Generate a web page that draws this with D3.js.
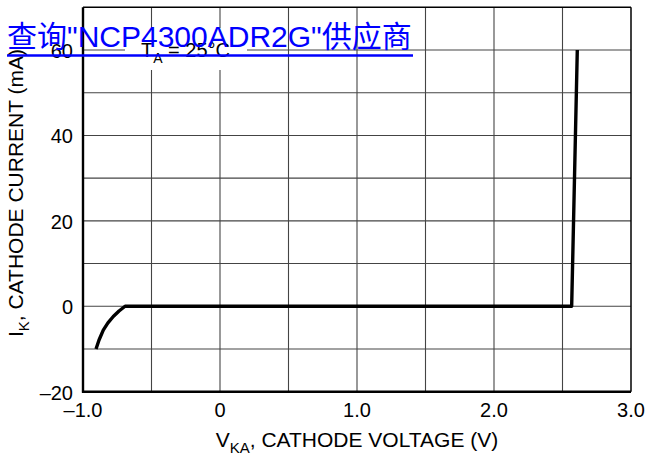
<!DOCTYPE html>
<html><head><meta charset="utf-8">
<script src="https://cdn.jsdelivr.net/npm/d3@7"></script>
<style>body{margin:0;background:#fff}svg{display:block}</style>
</head><body>
<svg id="c" width="650" height="464"></svg>
<script>
const voltage = [-0.905, -0.883, -0.852, -0.818, -0.779, -0.737, -0.693, 2.567, 2.608];
const current = [-10.0, -7.9, -5.6, -3.9, -2.4, -1.1, 0, 0, 60];
const xTicks = [-1, 0, 1, 2, 3];
const xTickLabels = ["\u20131.0", "0", "1.0", "2.0", "3.0"];
const yTicks = [-20, 0, 20, 40, 60];
const yTickLabels = ["\u201320", "0", "20", "40", "60"];
const xGrid = d3.range(-0.5, 3, 0.5);
const yGrid = d3.range(-10, 70, 10);

const svg = d3.select("#c");
const L = 83, R = 631, T = 7.3, B = 391.7;
const x = d3.scaleLinear().domain([-1, 3]).range([L, R]);
const y = d3.scaleLinear().domain([-20, 70]).range([B, T]);
const font = "'Liberation Sans', Arial, sans-serif";

// grid
svg.append("g").selectAll("line").data(xGrid).join("line")
  .attr("x1", d => x(d)).attr("x2", d => x(d)).attr("y1", T).attr("y2", B)
  .attr("stroke", "#444").attr("stroke-width", 1.1);
svg.append("g").selectAll("line").data(yGrid).join("line")
  .attr("x1", L).attr("x2", R).attr("y1", d => y(d)).attr("y2", d => y(d))
  .attr("stroke", "#444").attr("stroke-width", 1.1);

// frame
svg.append("line").attr("x1", L).attr("x2", R).attr("y1", T).attr("y2", T).attr("stroke", "#000").attr("stroke-width", 1.5);
svg.append("line").attr("x1", R).attr("x2", R).attr("y1", T).attr("y2", B).attr("stroke", "#000").attr("stroke-width", 1.5);
svg.append("line").attr("x1", L).attr("x2", L).attr("y1", T).attr("y2", B + 1).attr("stroke", "#000").attr("stroke-width", 2.4);
svg.append("line").attr("x1", L - 1).attr("x2", R).attr("y1", B).attr("y2", B).attr("stroke", "#000").attr("stroke-width", 2.4);

// tick labels
svg.append("g").selectAll("text").data(xTicks).join("text")
  .attr("x", d => x(d)).attr("y", 417).attr("text-anchor", "middle")
  .attr("font-family", font).attr("font-size", 20).text((d, i) => xTickLabels[i]);
svg.append("g").selectAll("text").data(yTicks).join("text")
  .attr("x", 73).attr("y", d => y(d) + 8).attr("text-anchor", "end")
  .attr("font-family", font).attr("font-size", 20).text((d, i) => yTickLabels[i]);

// annotation T_A = 25°C with white box
svg.append("rect").attr("x", 125).attr("y", 28).attr("width", 122).attr("height", 42).attr("fill", "#fff");
const ta = svg.append("text").attr("x", 141).attr("y", 57).attr("font-family", font).attr("font-size", 20);
ta.append("tspan").text("T");
ta.append("tspan").attr("font-size", 14).attr("dy", 6).text("A");
ta.append("tspan").attr("dy", -6).text(" = 25\u00B0C");

// curve
const pts = voltage.map((v, i) => [v, current[i]]);
svg.append("path").datum(pts)
  .attr("d", d3.line().x(d => x(d[0])).y(d => y(d[1])))
  .attr("fill", "none").attr("stroke", "#000").attr("stroke-width", 3.4).attr("stroke-linejoin", "round");

// axis titles
const xt = svg.append("text").attr("x", 357).attr("y", 447).attr("text-anchor", "middle")
  .attr("font-family", font).attr("font-size", 21);
xt.append("tspan").text("V");
xt.append("tspan").attr("font-size", 15).attr("dy", 6).text("KA");
xt.append("tspan").attr("dy", -6).text(", CATHODE VOLTAGE (V)");

const yt = svg.append("text").attr("transform", "translate(23,193) rotate(-90)").attr("text-anchor", "middle")
  .attr("font-family", font).attr("font-size", 21);
yt.append("tspan").text("I");
yt.append("tspan").attr("font-size", 15).attr("dy", 6).text("K");
yt.append("tspan").attr("dy", -6).text(", CATHODE CURRENT (mA)");

// link overlay
svg.append("text").attr("x", 7).attr("y", 47)
  .attr("font-family", "'Liberation Sans', Arial, 'Noto Sans CJK SC', sans-serif")
  .attr("font-size", 30).attr("fill", "#0000ff")
  .text("\u67E5\u8BE2\"NCP4300ADR2G\"\u4F9B\u5E94\u5546");
svg.append("line").attr("x1", 7).attr("x2", 413).attr("y1", 55.5).attr("y2", 55.5)
  .attr("stroke", "#0000ff").attr("stroke-width", 2.4);
</script>
</body></html>
